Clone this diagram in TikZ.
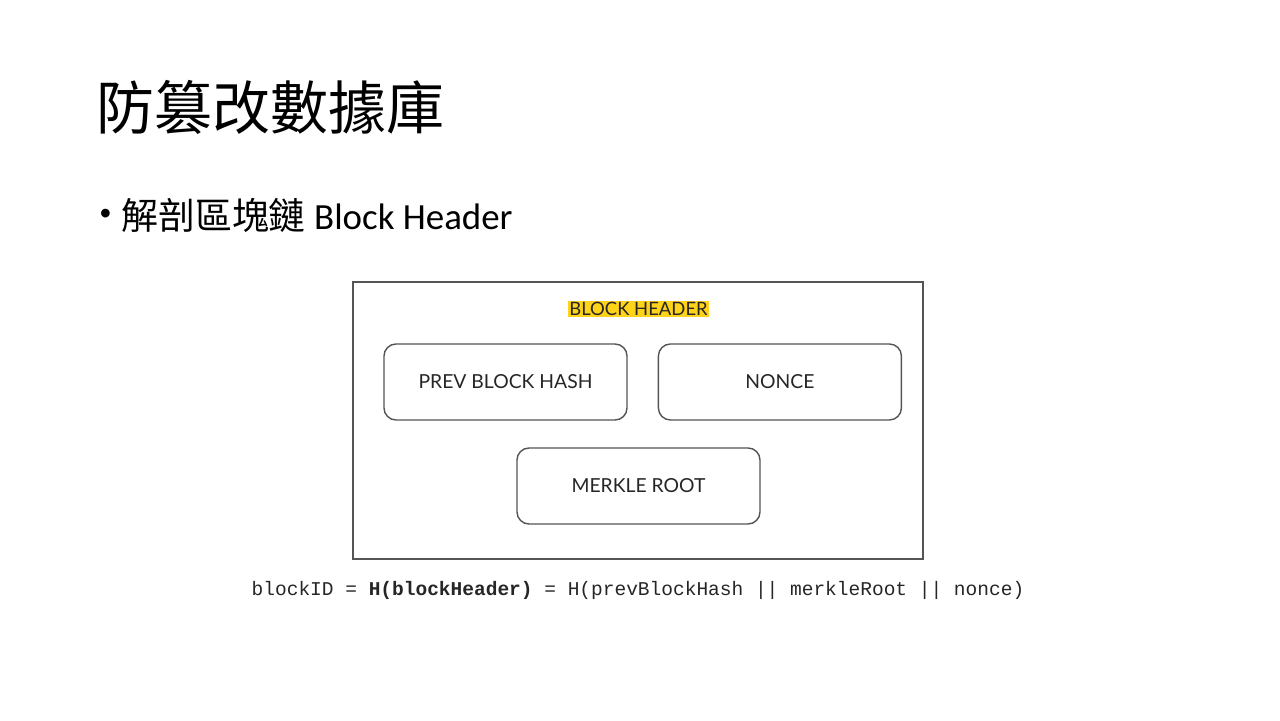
\documentclass[tikz,border=0pt]{standalone}
\usepackage{fontspec}
\setmainfont{Carlito}
\setsansfont{Lato}
\setmonofont{Liberation Mono}
\newfontfamily\cjk{Noto Sans CJK TC}
\usetikzlibrary{positioning}
\definecolor{hilite}{HTML}{FFD319}
\definecolor{edge}{HTML}{555555}
\tikzset{
    frame/.style={
        rectangle, draw=edge, line width=0.7pt,
        minimum width=11.4cm, minimum height=5.54cm
    },
    field/.style={
        rectangle, draw=edge, line width=0.8pt, rounded corners=0.24cm,
        minimum width=4.86cm, minimum height=1.52cm,
        fill=white, font=\sffamily\fontsize{11}{13}\selectfont, text=black!85
    },
    tag/.style={
        fill=hilite, inner sep=0.8pt,
        font=\sffamily\fontsize{10.5}{12}\selectfont, text=black!85
    },
    formula/.style={font=\ttfamily\fontsize{11.1}{13}\selectfont, text=black!85}
}
\begin{document}
\begin{tikzpicture}
\useasboundingbox (0,0) rectangle (25.6,14.4);

% Slide title and bullet
\node[anchor=west, inner sep=0pt, font=\cjk\fontsize{33}{36}\selectfont] (title) at (1.92,12.26) {防篡改數據庫};
\node[anchor=west, inner sep=0pt, font=\fontsize{14}{16}\selectfont] (dot) at (1.98,10.1) {\textbullet};
\node[anchor=west, inner sep=0pt, font=\fontsize{21}{24}\selectfont] (bullet) at (2.42,10.1) {{\cjk 解剖區塊鏈} Block Header};

% Header frame
\node[frame] (header) at (12.76,5.99) {};
\node[tag] (label) at (12.77,8.22) {BLOCK HEADER};

% Header fields
\node[field] (prev) at (10.11,6.76) {PREV BLOCK HASH};
\node[field, right=0.6cm of prev] (nonce) {NONCE};
\node[field] (merkle) at (12.77,4.68) {MERKLE ROOT};

% Block id
\node[formula] (blockid) at (12.76,2.6) {blockID = \textbf{H(blockHeader)} = H(prevBlockHash || merkleRoot || nonce)};

\end{tikzpicture}
\end{document}
